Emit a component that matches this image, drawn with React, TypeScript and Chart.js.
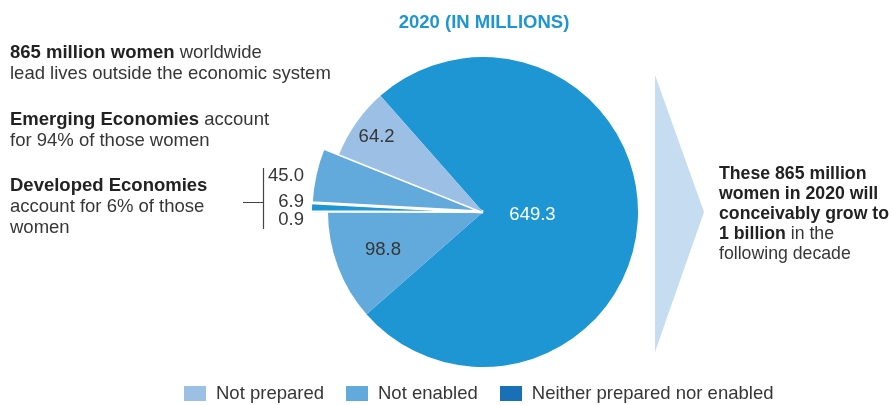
import React, { useEffect, useRef } from "react";
import { Chart, registerables } from "chart.js";

Chart.register(...registerables);

// ---- data ----
const categories = [
  "Emerging: Neither prepared nor enabled",
  "Emerging: Not enabled",
  "Developed: Not prepared",
  "Developed: Neither prepared nor enabled",
  "Developed: Not enabled",
  "Emerging: Not prepared",
];
const values = [649.3, 98.8, 0.9, 6.9, 45.0, 64.2];
const valueLabels = ["649.3", "98.8", "0.9", "6.9", "45.0", "64.2"];
const exploded = [false, false, true, true, true, false];
const sliceColors = ["#1e96d3", "#62a9dc", "#a9cbea", "#1e96d3", "#62a9dc", "#9bbfe5"];
const sliceBorders = [0, 0, 0.6, 2, 3, 0];

const legendLabels = ["Not prepared", "Not enabled", "Neither prepared nor enabled"];
const legendColors = ["#9bbfe5", "#62a9dc", "#1970b7"];

const FONT = '"Liberation Sans", Arial, Helvetica, sans-serif';
const TEXT = "#363636";

// inner label radial fraction (null = outside label)
const innerLabelPos = [0.32, 0.69, null, null, null, 0.84];
// outside labels: offset from pie center (right-aligned)
const outsideLabelDx = -179;
const outsideLabelDy = [null, null, 8, -10, -36.5, null];

const explodePlugin = {
  id: "explodeSlices",
  afterDatasetUpdate(chart: any, args: any) {
    const meta = args.meta;
    meta.data.forEach((arc: any, i: number) => {
      if (exploded[i]) arc.outerRadius = arc.outerRadius + 17;
    });
  },
};

const labelPlugin = {
  id: "sliceLabels",
  afterDatasetsDraw(chart: any) {
    const ctx = chart.ctx;
    const meta = chart.getDatasetMeta(0);
    const first = meta.data[0];
    const cx = first.x;
    const cy = first.y;
    ctx.save();
    ctx.font = `18.5px ${FONT}`;
    ctx.textBaseline = "middle";
    meta.data.forEach((arc: any, i: number) => {
      const frac = innerLabelPos[i];
      if (frac !== null) {
        const mid = (arc.startAngle + arc.endAngle) / 2;
        const r = arc.outerRadius * frac;
        ctx.textAlign = "center";
        ctx.fillStyle = i === 0 ? "#ffffff" : TEXT;
        ctx.fillText(valueLabels[i], cx + Math.cos(mid) * r, cy + Math.sin(mid) * r);
      } else {
        ctx.textAlign = "right";
        ctx.fillStyle = TEXT;
        ctx.fillText(valueLabels[i], cx + outsideLabelDx, cy + (outsideLabelDy[i] as number));
      }
    });
    // bracket
    ctx.strokeStyle = "#444";
    ctx.lineWidth = 1.2;
    ctx.beginPath();
    ctx.moveTo(cx - 219.5, cy - 44);
    ctx.lineTo(cx - 219.5, cy + 17);
    ctx.moveTo(cx - 240, cy - 9.5);
    ctx.lineTo(cx - 219.5, cy - 9.5);
    ctx.stroke();
    ctx.restore();
  },
};

export default function App() {
  const canvasRef = useRef<HTMLCanvasElement | null>(null);

  useEffect(() => {
    if (!canvasRef.current) return;
    const chart = new Chart(canvasRef.current, {
      type: "pie",
      data: {
        labels: categories,
        datasets: [
          {
            data: values,
            backgroundColor: sliceColors,
            borderColor: "#ffffff",
            borderWidth: sliceBorders,
            hoverBorderWidth: sliceBorders,
            hoverOffset: 0,
          },
        ],
      },
      options: {
        responsive: false,
        animation: false,
        rotation: 318.55,
        layout: { padding: { left: 326.5, top: 55.5, right: 252.5, bottom: 36.5 } },
        plugins: {
          legend: { display: false },
          title: { display: false },
          tooltip: { enabled: false },
        },
        events: [],
      },
      plugins: [explodePlugin, labelPlugin],
    });
    return () => chart.destroy();
  }, []);

  const abs = (left: number, top: number, extra: any = {}) => ({
    position: "absolute" as const,
    left,
    top,
    ...extra,
  });

  const leftText = {
    fontFamily: FONT,
    fontSize: 18.5,
    lineHeight: "21px",
    color: TEXT,
    whiteSpace: "nowrap" as const,
  };

  return (
    <div style={{ position: "absolute", left: 0, top: 0, width: 892, height: 405, background: "#fff", overflow: "hidden" }}>
      <canvas ref={canvasRef} width={892} height={405} style={{ position: "absolute", left: 0, top: 0, width: 892, height: 405 }} />

      <svg width={892} height={405} style={{ position: "absolute", left: 0, top: 0, pointerEvents: "none" }}>
        <polygon points="655,75 704,212 655,352" fill="#c6dcf1" />
      </svg>

      <div style={abs(0, 10.5, { width: 968, textAlign: "center", fontFamily: FONT, fontSize: 18.5, fontWeight: 700, lineHeight: "22px", color: "#1e96d3" })}>
        2020 (IN MILLIONS)
      </div>

      <div style={abs(10, 40.5, leftText)}>
        <b style={{ color: "#222" }}>865 million women</b> worldwide
        <br />
        lead lives outside the economic system
      </div>
      <div style={abs(10, 107.5, leftText)}>
        <b style={{ color: "#222" }}>Emerging Economies</b> account
        <br />
        for 94% of those women
      </div>
      <div style={abs(10, 173.5, leftText)}>
        <b style={{ color: "#222" }}>Developed Economies</b>
        <br />
        account for 6% of those
        <br />
        women
      </div>

      <div style={abs(719, 162.5, { fontFamily: FONT, fontSize: 17.7, lineHeight: "20px", color: TEXT, whiteSpace: "nowrap" })}>
        <b style={{ color: "#222" }}>These 865 million</b>
        <br />
        <b style={{ color: "#222" }}>women in 2020 will</b>
        <br />
        <b style={{ color: "#222" }}>conceivably grow to</b>
        <br />
        <b style={{ color: "#222" }}>1 billion</b> in the
        <br />
        following decade
      </div>

      <div style={abs(184, 384, { display: "flex", alignItems: "center", fontFamily: FONT, fontSize: 18.5, lineHeight: "18px", color: TEXT, whiteSpace: "nowrap" })}>
        {legendLabels.map((l, i) => (
          <div key={l} style={{ display: "flex", alignItems: "center", marginRight: 22 }}>
            <span style={{ display: "inline-block", width: 22, height: 15, background: legendColors[i], marginRight: 10 }} />
            <span>{l}</span>
          </div>
        ))}
      </div>
    </div>
  );
}
